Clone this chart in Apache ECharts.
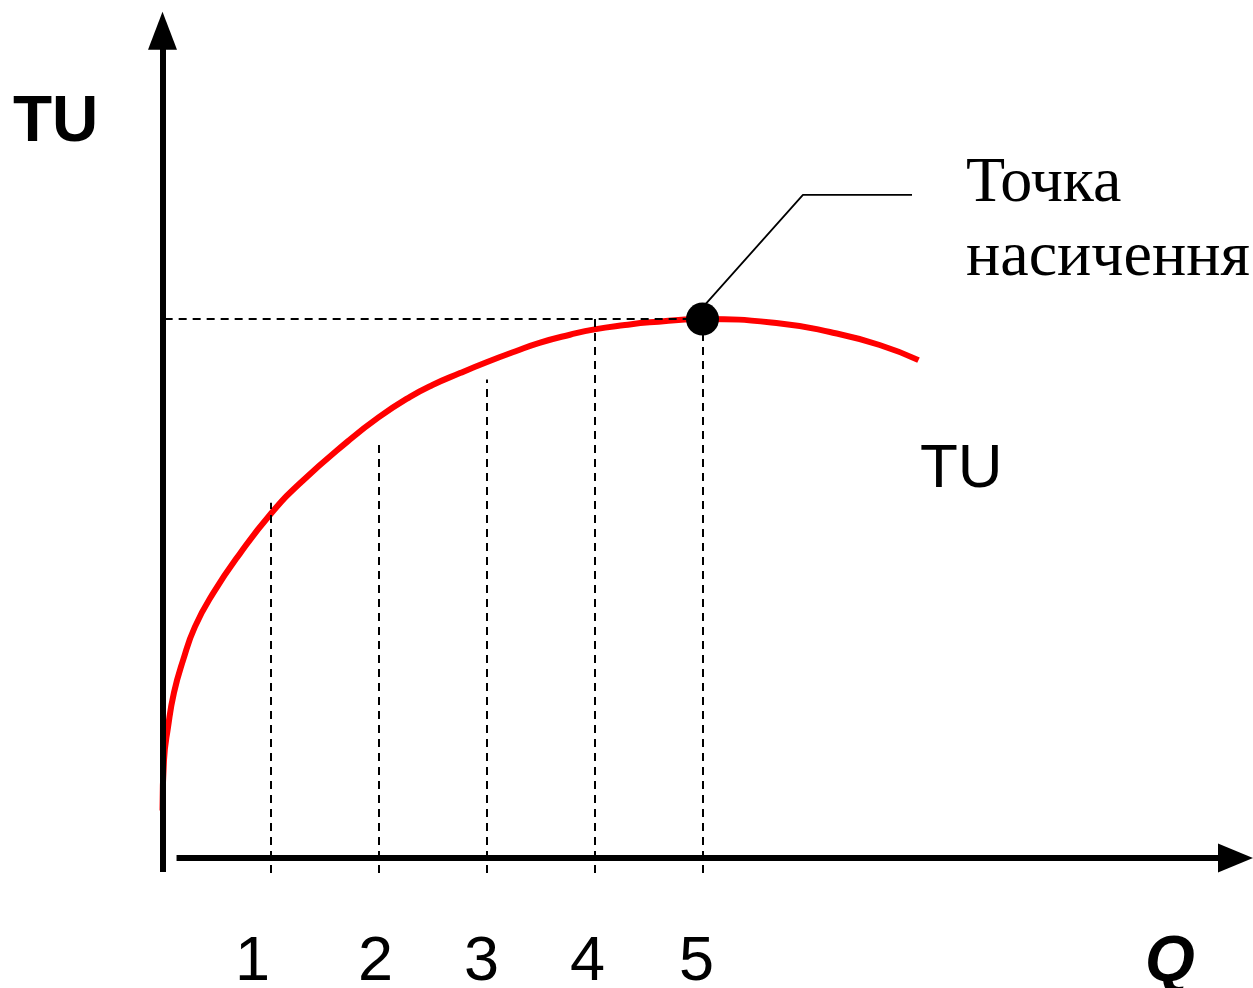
<!DOCTYPE html>
<html>
<head>
<meta charset="utf-8">
<script src="https://cdn.jsdelivr.net/npm/echarts@6/dist/echarts.min.js"></script>
<style>
html,body{margin:0;padding:0;background:#fff;}
#chart{width:1253px;height:988px;}
</style>
</head>
<body>
<div id="chart"></div>
<script>
// Quantity tick labels shown under the axis
const qTicks = [1, 2, 3, 4, 5];
// Total utility curve TU(Q)
const curveQ  = [0, 0.014, 0.051, 0.106, 0.19, 0.30, 0.468, 0.718, 1.005, 1.273, 1.718, 2.00, 2.292, 2.50, 2.755, 3.00, 3.264, 3.49, 3.773, 4.00, 4.282, 4.51, 5.00, 5.72, 6.18, 6.64, 7.00];
const curveTU = [0.44, 0.91, 1.21, 1.53, 1.83, 2.14, 2.45, 2.82, 3.19, 3.47, 3.86, 4.08, 4.27, 4.38, 4.49, 4.59, 4.69, 4.77, 4.845, 4.895, 4.935, 4.96, 4.99, 4.95, 4.87, 4.75, 4.61];
// Dashed drop lines at each quantity (top heights)
const dropQ   = [1, 2, 3, 4, 5];
const dropTop = [3.29, 3.83, 4.43, 4.99, 4.99];
const dropBottom = -0.14;
// Saturation point
const satQ = 5, satTU = 4.99;
// Leader line from the saturation point to its caption
const leaderQ  = [5.02, 5.93, 6.94];
const leaderTU = [5.12, 6.14, 6.14];
// Texts
const yTitle = 'TU';
const xTitle = 'Q';
const curveName = 'TU';
const satCaption = ['Точка', 'насичення'];

const chart = echarts.init(document.getElementById('chart'));
const dashStyle = {color: '#000', width: 2, type: [8, 6]};

const dropLines = dropQ.map((q, i) => [
  {coord: [q, dropBottom], lineStyle: dashStyle},
  {coord: [q, dropTop[i]]}
]);
dropLines.push([
  {coord: [0.02, satTU], lineStyle: dashStyle},
  {coord: [satQ, satTU]}
]);

const labelShift = {1: 36, 2: 6, 3: 10, 4: 14, 5: 12};
const rich = {};
qTicks.forEach(t => {
  rich['p' + t] = {
    fontFamily: 'Liberation Sans, Arial, sans-serif',
    fontSize: 63, color: '#000',
    padding: [0, labelShift[t], 0, 0]
  };
});

const option = {
  animation: false,
  backgroundColor: '#fff',
  grid: {left: 0.5, right: 10.5, top: 4.8, bottom: 22, containLabel: false, outerBoundsMode: 'none'},
  xAxis: {
    type: 'value', min: -1.5, max: 10, interval: 0.5,
    axisLine: {show: false, onZero: false},
    axisTick: {show: false},
    splitLine: {show: false},
    axisLabel: {
      margin: -3,
      verticalAlign: 'middle',
      fontFamily: 'Liberation Sans, Arial, sans-serif',
      fontSize: 63,
      color: '#000',
      rich: rich,
      formatter: v => qTicks.indexOf(v) >= 0 ? '{p' + v + '|' + v + '}' : ''
    }
  },
  yAxis: {
    type: 'value', min: -1, max: 7.9,
    axisLine: {show: false},
    axisTick: {show: false},
    splitLine: {show: false},
    axisLabel: {show: false}
  },
  series: [
    {
      name: 'axes',
      type: 'line',
      data: [],
      clip: false,
      markLine: {
        silent: true,
        animation: false,
        label: {show: false},
        symbol: ['none', 'triangle'],
        lineStyle: {color: '#000', width: 6, type: 'solid'},
        data: [
          [{coord: [0, -0.13], symbolSize: [29, 38]}, {coord: [0, 7.66], symbolSize: [29, 38]}],
          [{coord: [0.13, 0], symbolSize: [29, 35]}, {coord: [9.935, 0], symbolSize: [29, 35]}]
        ]
      }
    },
    {
      name: 'drops',
      type: 'line',
      data: [],
      clip: false,
      markLine: {
        silent: true,
        animation: false,
        label: {show: false},
        symbol: ['none', 'none'],
        lineStyle: dashStyle,
        data: dropLines
      }
    },
    {
      name: 'TU',
      type: 'line',
      clip: false,
      smooth: 0.5,
      symbol: 'none',
      lineStyle: {color: '#ff0000', width: 6},
      data: curveQ.map((q, i) => [q, curveTU[i]]),
      z: 3
    },
    {
      name: 'leader',
      type: 'line',
      clip: false,
      symbol: 'none',
      lineStyle: {color: '#000', width: 1.8},
      data: leaderQ.map((q, i) => [q, leaderTU[i]]),
      z: 4
    },
    {
      name: 'saturation',
      type: 'scatter',
      clip: false,
      symbol: 'circle',
      symbolSize: 33,
      itemStyle: {color: '#000', opacity: 1},
      data: [[satQ, satTU]],
      z: 5
    }
  ],
  graphic: [
    {type: 'text', left: 13, top: 91, style: {text: yTitle, font: 'bold 64px "Liberation Sans", Arial, sans-serif', fill: '#000'}},
    {type: 'text', left: 920, top: 439, style: {text: curveName, font: '62px "Liberation Sans", Arial, sans-serif', fill: '#000'}},
    {type: 'text', left: 966, top: 152, style: {text: satCaption[0], font: '64px "Liberation Serif", "Times New Roman", serif', fill: '#000'}},
    {type: 'text', left: 966, top: 226, style: {text: satCaption[1], font: '64px "Liberation Serif", "Times New Roman", serif', fill: '#000'}},
    {type: 'text', left: 1145, top: 931, style: {text: xTitle, font: 'italic bold 64px "Liberation Sans", Arial, sans-serif', fill: '#000'}}
  ]
};
chart.setOption(option);
</script>
</body>
</html>
